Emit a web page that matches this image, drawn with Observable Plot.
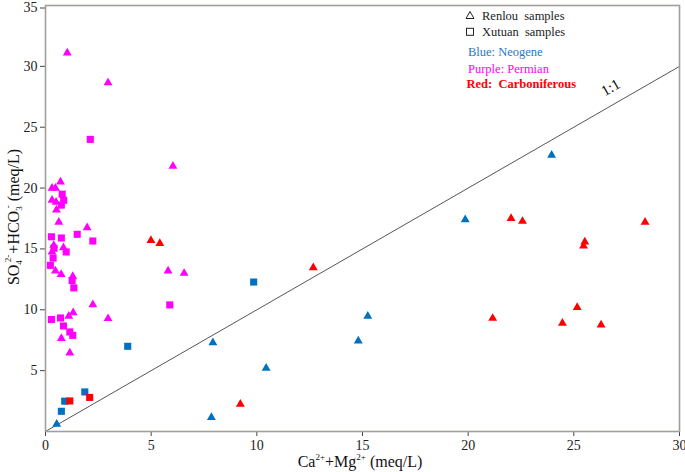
<!DOCTYPE html>
<html><head><meta charset="utf-8">
<script src="https://cdn.jsdelivr.net/npm/d3@7"></script>
<script src="https://cdn.jsdelivr.net/npm/@observablehq/plot@0.6"></script>
<style>
body{margin:0;background:#fff;}
#chart{position:relative;width:685px;height:472px;}
#chart svg text{font-family:'Liberation Serif','DejaVu Serif','Times New Roman',serif;}
</style>
</head><body><div id="chart"></div>
<script>
// ---- Data: [Ca2+ + Mg2+, SO4 2- + HCO3-] in meq/L ----
const renlouNeogene = [[0.53,0.6],[7.85,1.15],[7.92,7.3],[10.44,5.2],[14.8,7.45],[15.25,9.47],[19.86,17.4],[23.95,22.7]];
const renlouPermian = [[1.03,31.1],[2.96,28.65],[6.03,21.8],[0.31,20.0],[0.47,20.0],[0.71,20.5],[0.31,19.0],[0.5,18.85],
  [0.52,18.2],[0.63,17.2],[1.97,16.75],[0.39,15.3],[0.85,15.1],[0.31,14.75],[0.47,13.2],[0.74,12.9],[1.29,12.75],
  [2.24,10.42],[5.8,13.2],[6.56,13.0],[1.31,9.77],[1.1,9.47],[2.96,9.28],[0.75,7.65],[1.15,6.45]];
const renlouCarboniferous = [[4.99,15.7],[5.41,15.45],[12.67,13.46],[9.22,2.24],[22.03,17.5],[22.57,17.27],[28.37,17.2],
  [25.52,15.57],[25.46,15.24],[25.16,10.2],[21.16,9.3],[24.46,8.9],[26.29,8.75]];
const xutuanNeogene = [[0.75,1.66],[0.91,2.49],[1.86,3.25],[3.89,7.0],[9.85,12.28]];
const xutuanPermian = [[2.12,24.0],[0.79,19.5],[0.86,19.0],[0.75,18.6],[0.28,16.0],[0.75,15.9],[1.5,16.2],[2.24,15.65],
  [0.4,15.05],[0.98,14.75],[0.36,14.25],[0.23,13.65],[1.26,12.4],[1.34,11.8],[5.88,10.4],[0.28,9.2],[0.71,9.33],
  [0.85,8.67],[1.15,8.18],[1.29,7.9]];
const xutuanCarboniferous = [[1.15,2.51],[2.09,2.8]];

const groups = ["Neogene","Permian","Carboniferous"];
const groupColors = ["#0070C0","#FF00FF","#FF0000"];
const xTicks = [0,5,10,15,20,25,30];
const yTicks = [5,10,15,20,25,30];
const yTopTick = [35];
const oneToOne = [0,30];
const oneToOneLabel = [{text:"1:1", x:26.74, y:28.25}];

const rows = (arr, site, group) => arr.map(([x,y]) => ({x, y, site, group}));
const renlou = [...rows(renlouNeogene,"Renlou","Neogene"), ...rows(renlouPermian,"Renlou","Permian"), ...rows(renlouCarboniferous,"Renlou","Carboniferous")];
const xutuan = [...rows(xutuanNeogene,"Xutuan","Neogene"), ...rows(xutuanPermian,"Xutuan","Permian"), ...rows(xutuanCarboniferous,"Xutuan","Carboniferous")];

const serif = "'Liberation Serif','DejaVu Serif','Times New Roman',serif";
const axisText = {fontFamily: serif, fontSize: 14, stroke: "#444", label: null, tickSize: 5};

const plot = Plot.plot({
  width: 685, height: 472,
  marginLeft: 45, marginRight: 6, marginTop: 5, marginBottom: 41,
  x: {domain: [0,30]},
  y: {domain: [0,35]},
  color: {domain: groups, range: groupColors},
  style: {fontFamily: serif, fontSize: "14px", color: "#222", background: "#fff", overflow: "visible"},
  marks: [
    Plot.axisX({...axisText, ticks: xTicks, tickPadding: 4}),
    Plot.axisY({...axisText, ticks: yTicks, tickPadding: 3}),
    Plot.axisY({...axisText, ticks: yTopTick, tickPadding: 3, dy: 2.5}),
    Plot.line(oneToOne, {x: d => d, y: d => d, stroke: "#5a5553", strokeWidth: 1}),
    Plot.frame({stroke: "#a29e9a", strokeWidth: 1.6}),
    Plot.dot(renlou, {x: "x", y: "y", symbol: "triangle", r: 3.3, fill: "group"}),
    Plot.dot(xutuan, {x: "x", y: "y", symbol: "square", r: 4, fill: "group"}),
    Plot.text(oneToOneLabel, {x: "x", y: "y", text: "text", rotate: -30, fontSize: 15, fontFamily: serif, fill: "#111"})
  ]
});

const svg = d3.select(plot);

// Y axis label with sub/superscripts
const yl = svg.append("text")
  .attr("transform", "translate(19,217) rotate(-90)")
  .attr("text-anchor", "middle")
  .attr("font-family", serif).attr("font-size", 16).attr("fill", "#111");
yl.append("tspan").text("SO");
yl.append("tspan").attr("font-size", 9).attr("dy", 3).text("4");
yl.append("tspan").attr("font-size", 9).attr("dx", -2).attr("dy", -11).text("2-");
yl.append("tspan").attr("dx", 1).attr("dy", 8).text("+HCO");
yl.append("tspan").attr("font-size", 9).attr("dy", 3).text("3");
yl.append("tspan").attr("font-size", 9).attr("dx", -2).attr("dy", -11).text("-");
yl.append("tspan").attr("dy", 8).text(" (meq/L)");

// X axis label
const xl = svg.append("text")
  .attr("x", 360).attr("y", 467)
  .attr("text-anchor", "middle")
  .attr("font-family", serif).attr("font-size", 16).attr("fill", "#111");
xl.append("tspan").text("Ca");
xl.append("tspan").attr("font-size", 9).attr("dy", -7).text("2+");
xl.append("tspan").attr("dy", 7).text("+Mg");
xl.append("tspan").attr("font-size", 9).attr("dy", -7).text("2+");
xl.append("tspan").attr("dy", 7).text(" (meq/L)");

// Legend
const lg = svg.append("g").attr("font-family", serif).attr("font-size", 12.5).attr("text-anchor", "start");
lg.append("path").attr("d", "M470,11.5 L474,18.5 L466,18.5 Z").attr("fill", "none").attr("stroke", "#222").attr("stroke-width", 1);
lg.append("text").attr("x", 482).attr("y", 19.5).attr("fill", "#222").attr("word-spacing", 3).text("Renlou samples");
lg.append("rect").attr("x", 466.5).attr("y", 28.3).attr("width", 7).attr("height", 7).attr("fill", "none").attr("stroke", "#222").attr("stroke-width", 1);
lg.append("text").attr("x", 482).attr("y", 35.5).attr("fill", "#222").attr("word-spacing", 3).text("Xutuan samples");
lg.append("text").attr("x", 468).attr("y", 55.5).attr("fill", "#1F78C8").text("Blue: Neogene");
lg.append("text").attr("x", 468).attr("y", 73).attr("fill", "#FF00FF").text("Purple: Permian");
lg.append("text").attr("x", 466.5).attr("y", 87.5).attr("fill", "#FF0000").attr("font-weight", "bold").text("Red:\u00A0 Carboniferous");

document.getElementById("chart").appendChild(plot);
</script>
</body></html>
